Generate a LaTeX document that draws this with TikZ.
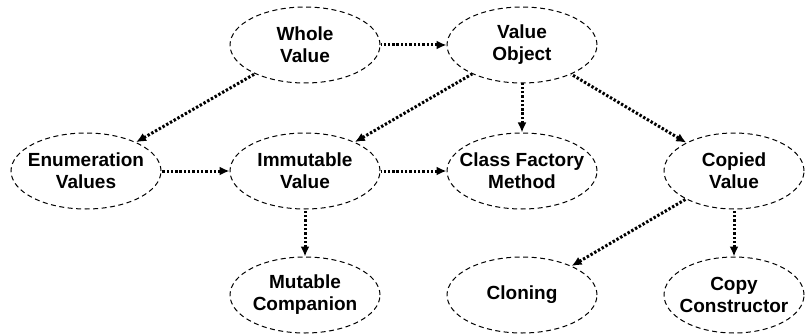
\documentclass[tikz,border=0pt]{standalone}
\usepackage{fontspec}
\setmainfont{Liberation Sans}
\usetikzlibrary{shapes.geometric,arrows.meta}
\tikzset{
  concept/.style={ellipse,draw,line width=1pt,dash pattern=on 5pt off 3.5pt,
    minimum width=150pt,minimum height=76pt,inner xsep=-12pt,inner ysep=0pt,
    align=center,font=\bfseries\fontsize{19}{22}\selectfont},
  narrow/.style={minimum width=140pt},
  from/.style={line width=3pt,dash pattern=on 2.4pt off 1.9pt,{Latex[length=10pt,width=9pt]}-}
}

\begin{document}
\begin{tikzpicture}[x=1pt,y=1pt,node distance=217pt]
\useasboundingbox (0,0) rectangle (805,-334);

\node[concept] at (305,-45) (whole) {Whole\\Value};
\node[concept] [right of=whole] (object) {Value\\Object} edge[from] (whole);
\node[concept] [node distance=126pt,below of=whole] (immutable) {Immutable\\Value} edge[from] (object);
\node[concept] [left of=immutable,xshift=-2pt] (enum) {Enumeration\\Values} edge[from] (whole);
\node[concept] [right of=immutable] (factory) {Class Factory\\Method} edge[from] (immutable) edge[from] (object);
\node[concept,narrow] [right of=factory,xshift=-5pt] (copied) {Copied\\Value} edge[from] (object);

\draw[from] (immutable) -- (enum);

\node[concept] [node distance=124pt,below of=immutable] (mutable) {Mutable\\Companion} edge[from] (immutable);
\node[concept] [right of=mutable] (cloning) {Cloning} edge[from] (copied);
\node[concept,narrow] [right of=cloning,xshift=-5pt] (copy) {Copy\\Constructor} edge[from] (copied);

\end{tikzpicture}
\end{document}
